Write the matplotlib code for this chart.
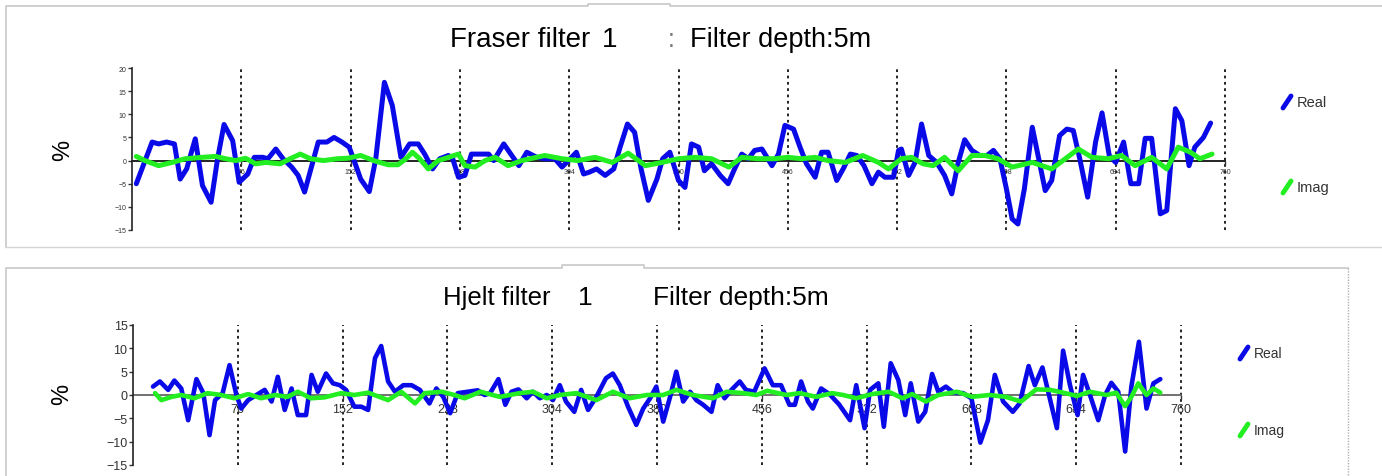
"""Perfiles filtrados (Fraser y Hjelt): componentes real e imaginaria en %."""

import os

os.environ.setdefault("MPLCONFIGDIR", ".matplotlib-cache")

import matplotlib

matplotlib.use("Agg")
import matplotlib.pyplot as plt
from matplotlib.lines import Line2D


ANCHO, ALTO = 1382, 477
AZUL = "#0a0ae8"
VERDE = "#22ee22"
MARCAS_X = [76, 152, 228, 304, 380, 456, 532, 608, 684, 760]

# Filtro de Fraser
FRASER_REAL_X = [
    3, 14, 18.5, 24, 29.5, 33.5, 38, 44, 49, 55, 59.5, 64, 70, 74.5, 80.5, 85, 91, 94.5,
    100, 105, 111, 115.5, 120, 125, 129.5, 135.5, 140.5, 146, 151, 154, 159, 165, 169.5,
    175.5, 181, 187, 193, 199, 203.5, 209, 214, 220, 223, 227, 231.5, 236, 243, 248,
    251.5, 258.5, 269, 274.5, 281.5, 287, 294, 299, 303.5, 309, 314, 318, 323, 329, 335,
    339, 344.5, 349.5, 354, 359, 365, 369, 374, 380, 384.5, 389, 394, 398, 403, 409,
    414.5, 419, 424, 428.5, 433, 438, 445, 449.5, 454, 460, 464.5, 469, 475, 479.5, 484,
    490, 494.5, 499.5, 504, 509, 514.5, 519, 523.5, 529.5, 533, 535, 540, 544.5, 549,
    554, 559.5, 565, 570, 574.5, 579, 584, 589.5, 594.5, 599, 603.5, 608, 612, 616,
    620.5, 626, 630.5, 635, 639.5, 645, 650, 654.5, 659, 664.5, 670, 674.5, 679.5, 684,
    689.5, 694.5, 700, 704.5, 709, 715, 719.5, 725.5, 730, 735, 739, 745, 750,
]
FRASER_REAL_Y = [
    -5.0, 4.0, 3.6, 4.0, 3.6, -4.0, -1.8, 4.7, -5.4, -9.0, 0.4, 7.8, 4.3, -4.7, -2.9, 0.7,
    0.7, 0.4, 2.5, 0.4, -1.4, -3.2, -6.8, -1.1, 4.0, 4.0, 5.0, 4.0, 2.9, 0.4, -4.0, -6.7,
    0.4, 16.9, 11.9, 0.7, 3.6, 3.6, 1.4, -1.8, 0.4, 1.1, 0.4, -3.6, -3.2, 1.4, 1.4, 1.4,
    0.0, 3.6, -1.1, 1.8, 0.7, 0.4, 0.4, -1.4, 0.0, 1.8, -2.9, -2.5, -1.8, -3.2, -1.8,
    2.5, 7.9, 6.1, -1.8, -8.6, -4.0, 0.4, 1.8, -4.3, -5.8, 3.6, 2.9, -2.2, -0.7, -3.2,
    -5.0, -1.8, 1.4, 0.4, 2.2, 2.5, -1.1, 1.4, 7.6, 6.8, 2.9, -0.7, -3.6, 1.8, 1.8,
    -4.3, -1.8, 1.4, 1.1, -1.1, -5.0, -2.5, -3.6, -3.6, 2.2, 2.5, -3.2, -0.4, 7.9,
    1.1, -0.4, -3.2, -7.2, -0.4, 4.5, 2.2, 1.1, 1.1, 2.2, 0.4, -6.1, -12.6, -13.7,
    -6.1, 7.2, 0.4, -6.5, -4.3, 5.4, 6.8, 6.5, 0.4, -7.9, 4.0, 10.3, 1.1, -0.4,
    4.0, -5.0, -5.0, 4.8, 4.8, -11.5, -10.8, 11.2, 8.6, -1.1, 2.9, 5.0, 8.1,
]
FRASER_IMAG_X = [
    3, 9, 18.5, 28, 37, 49, 58, 65, 72, 79, 86, 93, 103, 110, 117, 124, 133, 143, 150,
    159, 168, 178, 185, 190.5, 195, 200, 206, 213, 220, 227, 231.5, 238.5, 245.5, 252.5,
    261.5, 271, 287, 299, 310, 322, 334, 345, 357, 368.5, 380, 391.5, 403, 415, 424,
    435, 447, 456, 465.5, 475, 484, 496, 508, 519, 526, 535, 542, 550, 557, 565, 574.5,
    584, 593, 602, 612, 626, 639.5, 649, 658, 667.5, 679, 688, 697.5, 709, 719.5,
    727.5, 736, 742.5, 751,
]
FRASER_IMAG_Y = [
    0.9, 0.0, -1.1, -0.4, 0.4, 0.7, 0.9, 0.4, 0.0, 0.5, -0.7, -0.4, -0.7, 0.4, 1.4, 0.4,
    0.0, 0.4, 0.5, 1.1, 0.0, -0.9, -0.9, 0.4, 1.8, 0.4, -1.8, 0.0, 0.7, 1.4, -1.1, -1.4,
    0.0, 0.7, -1.1, 0.0, 1.1, 0.4, 0.0, 0.7, -0.4, 1.6, -1.1, -0.4, 0.4, 0.7, 0.4,
    -1.4, 0.7, 0.4, 0.4, 0.7, 0.4, 0.7, 0.0, -0.4, 1.1, -0.4, -1.8, 0.4, 0.7, -0.7,
    -1.1, 0.7, -2.2, 1.1, 1.1, 0.4, -1.4, -0.4, -1.8, 0.4, 2.5, 0.7, 0.4, 1.1, -1.1,
    0.7, -1.8, 2.9, 1.8, 0.4, 1.4,
]

# Filtro de Hjelt
HJELT_REAL_X = [
    14.5, 19.5, 25.5, 30, 35, 40, 46, 51, 55.5, 59.5, 65, 70, 75, 78.5, 83.5, 89.5, 95.5,
    100.5, 105, 110, 115, 119.5, 125.5, 129.5, 134, 140, 145, 150, 154.5, 160.5, 165.5,
    170.5, 175.5, 180, 185, 190, 196, 202, 208, 215, 220, 225, 230, 235.5, 243, 250, 255,
    259, 265, 270, 274.5, 279.5, 285.5, 290, 295, 300, 304.5, 309.5, 314, 320, 325, 330,
    336, 343, 348, 353, 359, 365, 370, 375, 379.5, 384.5, 389.5, 394, 399, 404, 408.5,
    413.5, 419.5, 424, 429, 434, 440, 444.5, 450.5, 458, 464, 470, 476, 480, 484.5,
    489.5, 493, 499, 505, 512, 520, 524.5, 530.5, 534.5, 540.5, 544.5, 549.5, 555, 560,
    564, 569.5, 574.5, 579.5, 584, 589.5, 595, 602, 608, 614.5, 620, 625, 631, 638, 643,
    649.5, 654, 659.5, 670, 674.5, 679.5, 685, 689, 694, 700, 705, 709.5, 714.5, 719.5,
    724, 729.5, 735, 740, 745,
]
HJELT_REAL_Y = [
    1.8, 2.9, 1.1, 3.1, 1.4, -5.4, 3.4, 0.4, -8.6, -1.1, 0.4, 6.4, 0.0, -2.9, -1.1, 0.0,
    1.1, -1.4, 3.9, -3.2, 1.4, -4.3, -4.3, 4.3, 0.7, 4.6, 2.5, 2.1, 1.1, -2.5, -2.5, -3.2,
    7.9, 10.5, 2.9, 0.7, 2.1, 2.1, 1.1, -1.8, 1.4, -0.4, -3.9, 0.4, 0.7, 1.0, 0.0, 0.4,
    3.4, -2.1, 0.7, 1.2, -0.7, 0.7, -0.7, 0.0, -1.1, 2.1, -1.4, -3.6, 1.1, -3.2, -0.4,
    3.6, 4.6, 2.1, -2.5, -6.4, -2.9, -0.7, 1.8, -5.7, -0.4, 5.0, -1.4, 0.7, -1.1,
    -2.1, -3.6, 2.1, -0.7, 1.1, 2.9, 1.1, 0.7, 5.7, 2.1, 2.1, -2.1, -2.1, 2.9, -1.4,
    -2.9, 1.4, 0.2, -2.0, -5.4, 2.1, -7.1, 1.1, 2.5, -6.8, 6.8, 3.2, -4.3, 2.5, -5.7,
    -3.6, 4.5, 0.7, 1.8, 0.5, 0.4, -0.7, -10.2, -5.4, 4.3, -1.4, -3.6, -1.8, 6.2, 2.1,
    5.9, -7.1, 9.5, 2.1, -4.3, 4.3, 0.0, -5.4, 0.0, 2.6, 0.7, -12.1, 1.8, 11.4, -2.9,
    2.5, 3.4,
]
HJELT_IMAG_X = [
    16, 20.5, 28, 35, 44.5, 54, 64, 73.5, 83.5, 93, 103, 112, 119.5, 129, 139, 151,
    160.5, 170.5, 185, 194.5, 204.5, 211.5, 224, 233, 240.5, 252, 266, 280.5, 290, 300,
    309.5, 321.5, 336, 348, 360, 372.5, 384.5, 394, 406, 420.5, 430.5, 442.5, 452, 460,
    474, 483.5, 495.5, 507, 515, 524.5, 536, 548, 558, 565, 575, 584, 597.5, 608.5, 621,
    633, 644, 655, 665, 674.5, 684.5, 694, 706, 713, 719.5, 724, 729, 735, 740, 745,
]
HJELT_IMAG_Y = [
    0.4, -1.1, -0.4, 0.0, -0.7, 0.4, 0.0, -0.7, 0.2, -0.7, 0.0, -0.4, 0.7, -0.7, -0.5,
    0.4, 0.0, 0.5, -1.1, 0.7, -1.8, 0.4, 0.7, 0.0, -0.7, 0.7, -0.4, 0.4, 0.7, -0.7,
    0.0, 0.4, -1.1, 0.7, -0.7, 0.0, 0.0, 1.1, 0.0, -0.7, 0.7, 0.4, 0.0, 0.9, 0.0, 0.4,
    -0.4, 0.4, 0.0, -0.7, 0.2, 0.7, -0.7, 0.2, -1.4, 0.0, 0.7, -0.4, 0.0, -0.4, -1.4,
    1.2, 1.1, 0.5, -0.2, 0.7, 0.0, 0.5, -2.4, -0.4, 2.5, 0.0, 1.4, 0.5,
]

TOP_YTICKS = [-15, -10, -5, 0, 5, 10, 15, 20]
BOTTOM_YTICKS = [-15, -10, -5, 0, 5, 10, 15]


def fx(px):
    return px / ANCHO


def fy(py):
    return 1 - py / ALTO


def caja_ejes(izq, der, arriba, abajo):
    return [fx(izq), fy(abajo), (der - izq) / ANCHO, (abajo - arriba) / ALTO]


def dibujar_panel(fig, caja, real, imag, ylim, yticks, tam_ticks, grosor, color_eje, pad_x):
    ax = fig.add_axes(caja)
    ax.set_xlim(0, 760)
    ax.set_ylim(*ylim)
    ax.patch.set_alpha(0)

    # líneas verticales punteadas en cada marca
    for pos in MARCAS_X:
        ax.axvline(pos, color="#111111", lw=1.3, ls=(0, (1.5, 2.0)), zorder=1, clip_on=False)

    ax.plot(real[0], real[1], color=AZUL, lw=grosor, solid_joinstyle="round",
            solid_capstyle="round", zorder=3)
    ax.plot(imag[0], imag[1], color=VERDE, lw=grosor, solid_joinstyle="round",
            solid_capstyle="round", zorder=4)

    ax.spines[["top", "right"]].set_visible(False)
    ax.spines["bottom"].set_position(("data", 0))
    ax.spines["bottom"].set_color(color_eje)
    ax.spines["bottom"].set_linewidth(1.3)
    ax.spines["bottom"].set_zorder(2)
    ax.spines["left"].set_color("#222222")
    ax.spines["left"].set_linewidth(1.2)

    ax.set_xticks(MARCAS_X)
    ax.set_xticklabels([str(v) for v in MARCAS_X])
    ax.set_yticks(yticks)
    ax.tick_params(axis="x", direction="out", length=3, width=1, pad=pad_x,
                   labelsize=tam_ticks, colors="#333333")
    ax.tick_params(axis="y", direction="out", length=3, width=1, pad=1,
                   labelsize=tam_ticks, colors="#333333")
    return ax


def leyenda(fig, x, y_real, y_imag, tam):
    for y, color, texto in [(y_real, AZUL, "Real"), (y_imag, VERDE, "Imag")]:
        fig.add_artist(Line2D([fx(x), fx(x + 8)], [fy(y + 6), fy(y - 6)],
                              transform=fig.transFigure, color=color, lw=3.5,
                              solid_capstyle="round"))
        fig.text(fx(x + 14), fy(y), texto, fontsize=tam, color="#333333",
                 ha="left", va="center")


def marco(fig, puntos, **estilo):
    xs = [fx(p[0]) for p in puntos]
    ys = [fy(p[1]) for p in puntos]
    fig.add_artist(Line2D(xs, ys, transform=fig.transFigure, **estilo))


def main():
    plt.rcParams["font.family"] = ["Liberation Sans", "DejaVu Sans"]
    fig = plt.figure(figsize=(ANCHO / 100, ALTO / 100), dpi=100)
    fig.patch.set_facecolor("white")

    # marcos de los dos paneles
    marco(fig, [(6, 248), (6, 7), (588, 7), (588, 5), (670, 5), (670, 7), (1382, 7)],
          color="#c8c8c8", lw=1.2)
    marco(fig, [(6, 248), (1382, 248)], color="#d4d4d4", lw=1.0)
    marco(fig, [(6, 477), (6, 269), (562, 269), (562, 266), (644, 266), (644, 269),
                (1348, 269)], color="#c8c8c8", lw=1.2)
    marco(fig, [(1348, 269), (1348, 477)], color="#b0b0b0", lw=1.0, ls=(0, (1, 1)))

    dibujar_panel(fig, caja_ejes(132, 1225, 69, 231),
                  (FRASER_REAL_X, FRASER_REAL_Y), (FRASER_IMAG_X, FRASER_IMAG_Y),
                  (-15, 20), TOP_YTICKS, 5, 3.6, "#111111", 2)
    dibujar_panel(fig, caja_ejes(133, 1181, 326, 466),
                  (HJELT_REAL_X, HJELT_REAL_Y), (HJELT_IMAG_X, HJELT_IMAG_Y),
                  (-15, 15), BOTTOM_YTICKS, 9, 3.3, "#666666", 3)

    # títulos
    fig.text(fx(450), fy(47), "Fraser filter", fontsize=20, ha="left", va="baseline")
    fig.text(fx(610), fy(47), "1", fontsize=20, ha="center", va="baseline")
    fig.text(fx(671), fy(47), ":", fontsize=18, color="#777777", ha="center", va="baseline")
    fig.text(fx(690), fy(47), "Filter depth:5m", fontsize=19.5, ha="left", va="baseline")

    fig.text(fx(443), fy(305), "Hjelt filter", fontsize=18.5, ha="left", va="baseline")
    fig.text(fx(585), fy(305), "1", fontsize=19, ha="center", va="baseline")
    fig.text(fx(653), fy(305), "Filter depth:5m", fontsize=19, ha="left", va="baseline")

    fig.text(fx(63), fy(150), "%", fontsize=17, rotation=90, ha="center", va="center")
    fig.text(fx(62), fy(394), "%", fontsize=17, rotation=90, ha="center", va="center")

    leyenda(fig, 1283, 103, 188, 10.5)
    leyenda(fig, 1240, 354, 431, 10)

    fig.savefig("out.png", dpi=100)
    plt.close(fig)


if __name__ == "__main__":
    main()
